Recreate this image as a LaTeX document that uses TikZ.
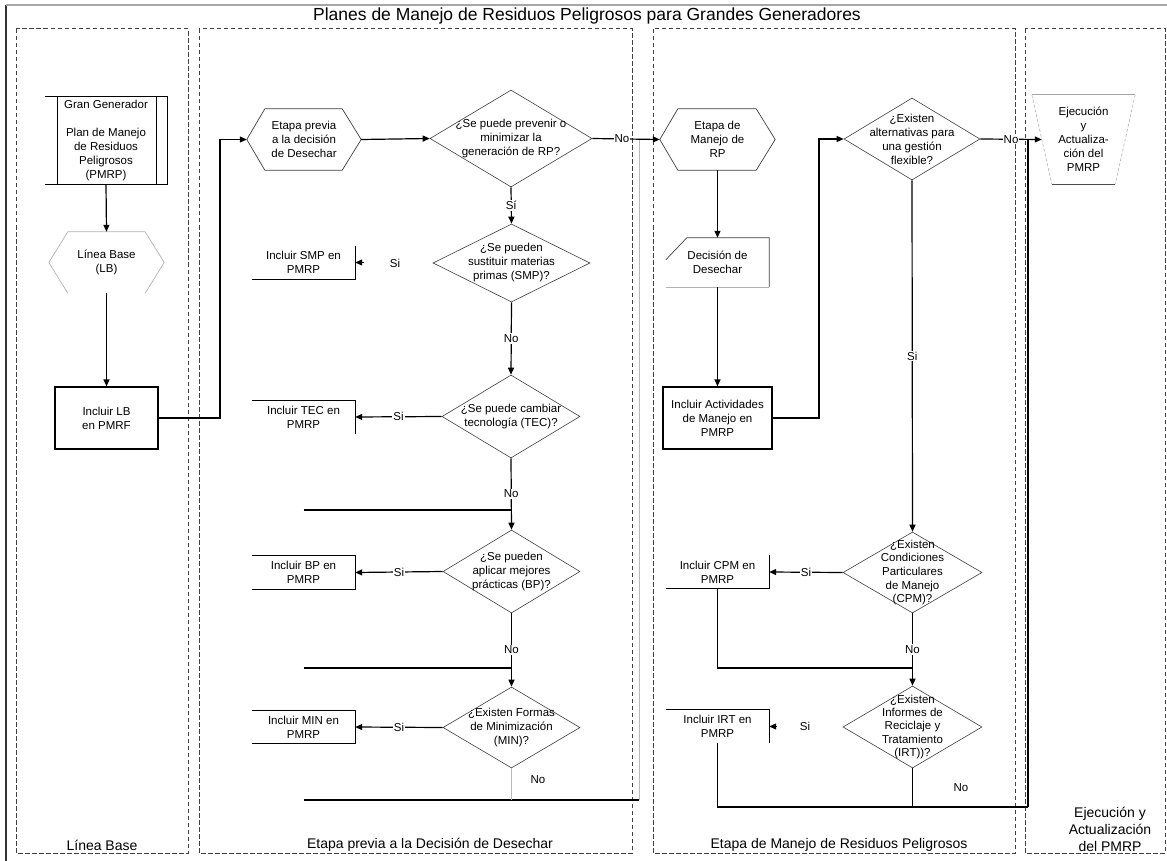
\documentclass[tikz,border=0pt]{standalone}
\usepackage{fontspec}
\setmainfont{Liberation Sans}
\usetikzlibrary{arrows.meta,shapes.geometric}

\begin{document}
\begin{tikzpicture}[x=1pt, y=-1pt]
	\tikzset{
		txt/.style={font=\fontsize{11.5}{14}\selectfont, align=center, inner sep=0pt},
		bx/.style={txt, minimum width=103, minimum height=33},
		dia/.style={diamond, draw=black!75, line width=0.6pt, inner sep=0pt},
		shp/.style={draw=black!75, line width=0.7pt},
		lane/.style={draw=black!75, line width=1pt, dash pattern=on 4.5pt off 2.5pt},
		ln/.style={line width=1.2pt},
		arr/.style={line width=1.2pt, -{Triangle[length=7pt,width=6pt]}},
		lbl/.style={txt, fill=white, inner sep=1pt},
		lanelbl/.style={font=\fontsize{14}{17}\selectfont, align=center}
	};

	\fill[white] (0,0) rectangle (1167,861);
	\useasboundingbox (0,0) rectangle (1167,861);

	% frame and title
	\draw[black!80, line width=1.2pt] (6,861) -- (6,5);
	\draw[gray!70, line width=2pt] (6,5) -- (1167,5);
	\node[font=\fontsize{17.5}{20}\selectfont] (title) at (587,16) {Planes de Manejo de Residuos Peligrosos para Grandes Generadores};

	% lanes
	\draw[lane] (16,29) rectangle (188,853);
	\draw[lane] (199,29) rectangle (632,853);
	\draw[lane] (653,29) rectangle (1015,853);
	\draw[lane] (1025,29) rectangle (1165,853);

	\node[lanelbl] (lane1) at (102,845) {Línea Base};
	\node[lanelbl] (lane2) at (430,845) {Etapa previa a la Decisión de Desechar};
	\node[lanelbl] (lane3) at (839,845) {Etapa de Manejo de Residuos Peligrosos};
	\node[lanelbl] (lane4) at (1110,829) {Ejecución y\\Actualización\\del PMRP};

	% Linea Base
	\node[txt, minimum width=122, minimum height=87] (gg) at (106,140.5) {Gran Generador\\[14pt]Plan de Manejo\\de Residuos\\Peligrosos\\(PMRP)};
	\draw[ln] (gg.north west) -- (gg.north east) -- (gg.south east) -- (gg.south west);
	\draw[ln] ([xshift=13]gg.north west) -- ([xshift=13]gg.south west);
	\draw[ln] ([xshift=-11]gg.north east) -- ([xshift=-11]gg.south east);

	\node[txt, minimum width=115, minimum height=61] (lb) at (106.5,262.5) {Línea Base\\(LB)};
	\draw[gray!60, line width=0.7pt] ([xshift=19]lb.south west) -- (lb.west) -- ([xshift=19]lb.north west)
		-- ([xshift=-19]lb.north east) -- (lb.east) -- ([xshift=-19]lb.south east);

	\node[bx, draw, line width=1.2pt, minimum height=62] (inclb) at (106.5,418) {Incluir LB\\en PMRF};

	\draw[arr] (gg.south) -- (lb.north);
	\draw[arr] (lb.south) -- (inclb.north);

	% Etapa previa
	\node[txt, minimum width=114, minimum height=61] (prev) at (304,139.5) {Etapa previa\\a la decisión\\de Desechar};
	\draw[shp] ([xshift=18]prev.north west) -- ([xshift=-19]prev.north east) -- (prev.east)
		-- ([xshift=-19]prev.south east) -- ([xshift=18]prev.south west) -- (prev.west) -- cycle;

	\node[dia, minimum width=162, minimum height=97, label={[txt]center:{¿Se puede prevenir o\\minimizar la\\generación de RP?}}] (q1) at (511,138.5) {};
	\node[dia, minimum width=157, minimum height=78, label={[txt]center:{¿Se pueden\\sustituir materias\\primas (SMP)?}}] (q2) at (511.5,263) {};
	\node[dia, minimum width=138, minimum height=83, label={[txt]center:{¿Se puede cambiar\\tecnología (TEC)?}}] (q3) at (511,416.5) {};
	\node[dia, minimum width=137, minimum height=83, label={[txt]center:{¿Se pueden\\aplicar mejores\\prácticas (BP)?}}] (q4) at (511.5,571.5) {};
	\node[dia, minimum width=137, minimum height=81, label={[txt]center:{¿Existen Formas\\de Minimización\\(MIN)?}}] (q5) at (511.5,727.5) {};

	\node[bx] (smp) at (303.5,262.5) {Incluir SMP en\\PMRP};
	\draw[ln] (smp.north east) -- (smp.south east) -- (smp.south west);
	\node[bx] (tec) at (303.5,417) {Incluir TEC en\\PMRP};
	\draw[ln] (tec.north west) -- (tec.north east) -- (tec.south east);
	\node[bx] (bp) at (303.5,572.5) {Incluir BP en\\PMRP};
	\draw[ln] (bp.north west) -- (bp.north east) -- (bp.south east) -- (bp.south west);
	\node[bx] (mn) at (303.5,727) {Incluir MIN en\\PMRP};
	\draw[ln] (mn.north west) -- (mn.north east) -- (mn.south east) -- (mn.south west);

	\coordinate (c1) at (220,139.5);
	\draw[arr] (inclb.east) -| (c1) -- (prev.west);
	\draw[arr] (prev.east) -- (q1.west);
	\draw[arr] (q1.south) -- node[lbl]{Sí} (q2.north);
	\draw[arr] (q2.south) -- node[lbl]{No} (q3.north);
	\draw[arr] (q3.south) -- node[lbl]{No} (q4.north);
	\draw[arr] (q4.south) -- node[lbl]{No} (q5.north);

	\coordinate (s1) at (364,262.5);
	\draw[arr] (s1) -- (smp.east);
	\node[txt] (si2) at (395,263) {Si};
	\draw[arr] (q3.west) -- node[lbl]{Si} (tec.east);
	\draw[arr] (q4.west) -- node[lbl]{Si} (bp.east);
	\draw[arr] (q5.west) -- node[lbl]{Si} (mn.east);

	\coordinate (r1) at (303.5,510);
	\coordinate (r2) at (303.5,668);
	\coordinate (r3) at (303.5,800);
	\coordinate (r3e) at (639,800);
	\coordinate (r3t) at (639,139.5);
	\draw[ln] (r1) -- (r1 -| q3.south);
	\draw[ln] (r2) -- (r2 -| q4.south);
	\draw[ln] (r3) -- (r3e);
	\draw[gray!55, line width=0.8pt] (r3e) -- (r3t);
	\draw[gray!55, line width=0.8pt] (q5.south) -- (q5.south |- r3e);
	\node[txt] (no5) at (538,780) {No};

	% Etapa de Manejo
	\node[txt, minimum width=115, minimum height=61] (manejo) at (717.5,139.5) {Etapa de\\Manejo de\\RP};
	\draw[shp] ([xshift=18]manejo.north west) -- ([xshift=-19]manejo.north east) -- (manejo.east)
		-- ([xshift=-19]manejo.south east) -- ([xshift=18]manejo.south west) -- (manejo.west) -- cycle;

	\node[txt, minimum width=103, minimum height=49] (dec) at (717.5,262.5) {Decisión de\\Desechar};
	\draw[shp] ([yshift=-22]dec.north west) -- ([xshift=21]dec.north west) -- (dec.north east) -- (dec.south east);
	\draw[gray!60, line width=0.8pt] (dec.south east) -- (dec.south west);

	\node[bx, draw, line width=1.2pt, minimum width=109, minimum height=62] (incact) at (717.5,418) {Incluir Actividades\\de Manejo en\\PMRP};

	\node[dia, minimum width=136, minimum height=82, label={[txt]center:{¿Existen\\alternativas para\\una gestión\\flexible?}}] (q6) at (912,139) {};
	\node[dia, minimum width=139, minimum height=81, label={[txt, font=\fontsize{11.5}{13.7}\selectfont]center:{¿Existen\\Condiciones\\Particulares\\de Manejo\\(CPM)?}}] (q7) at (912.5,572.5) {};
	\node[dia, minimum width=139, minimum height=82, label={[txt, font=\fontsize{11.5}{13.3}\selectfont]center:{¿Existen\\Informes de\\Reciclaje y\\Tratamiento\\(IRT))?}}] (q8) at (912.5,727) {};

	\node[bx] (cpm) at (717.5,572) {Incluir CPM en\\PMRP};
	\draw[ln] (cpm.north east) -- (cpm.south east) -- (cpm.south west);
	\node[bx] (irt) at (717.5,726.5) {Incluir IRT en\\PMRP};
	\draw[ln] (irt.north west) -- (irt.north east) -- (irt.south east);

	\draw[arr] (q1.east) -- node[lbl, pos=0.44]{No} (manejo.west);
	\draw[arr] (manejo.south) -- (dec.north);
	\draw[arr] (dec.south) -- (incact.north);
	\coordinate (c2) at (819,139);
	\draw[arr] (incact.east) -| (c2) -- (q6.west);
	\draw[arr] (q6.south) -- node[lbl]{Si} (q7.north);
	\draw[arr] (q7.west) -- node[lbl]{Si} (cpm.east);
	\draw[arr] (q7.south) -- node[lbl]{No} (q8.north);
	\coordinate (s2) at (777,726.5);
	\draw[arr] (s2) -- (irt.east);
	\node[txt] (si8) at (805,726.5) {Si};

	\coordinate (r4) at (912.5,668);
	\draw[ln] (cpm.south) |- (r4);
	\coordinate (r5) at (1028,807);
	\coordinate (r5t) at (1028,139);
	\draw[ln] (irt.south) |- (r5);
	\draw[ln] (q8.south) -- (q8.south |- r5);
	\draw[ln] (r5) -- (r5t);
	\node[txt] (no8) at (961,788) {No};

	% Ejecucion
	\node[txt, minimum width=103, minimum height=89] (ejec) at (1083.5,139.5) {Ejecución\\y\\Actualiza-\\ción del\\PMRP};
	\draw[gray!70, line width=1pt] (ejec.north west) -- (ejec.north east);
	\draw[gray!60, line width=0.6pt, dash pattern=on 3pt off 2pt] (ejec.north west) -- ([xshift=20]ejec.south west);
	\draw[gray!60, line width=0.6pt, dash pattern=on 3pt off 2pt] (ejec.north east) -- ([xshift=-20]ejec.south east);
	\draw[black!70, line width=1pt] ([xshift=20]ejec.south west) -- ([xshift=-20]ejec.south east);

	\draw[arr] (q6.east) -- node[lbl]{No} ([xshift=10]ejec.west);

\end{tikzpicture}
\end{document}
